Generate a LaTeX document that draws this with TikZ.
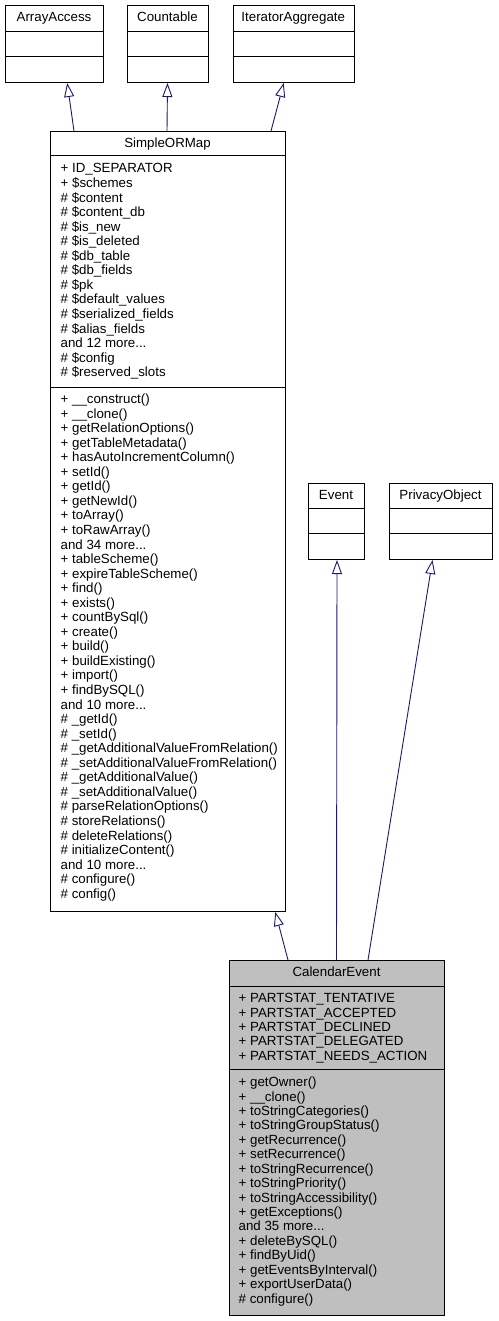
\documentclass[tikz,border=0pt]{standalone}
\usepackage{fontspec}
\setmainfont{Liberation Sans}
\usetikzlibrary{arrows.meta,calc}
\definecolor{edgeblue}{HTML}{191970}
\definecolor{focusgray}{HTML}{BFBFBF}
\newcommand{\andmore}[1]{and #1 more...}
\tikzset{
  classbox/.style={draw=black, line width=1pt, fill=white, inner sep=0pt, anchor=north west},
  focusbox/.style={classbox, fill=focusgray},
  sepline/.style={draw=black, line width=1pt},
  title/.style={anchor=base, inner sep=0pt, font=\fontsize{13.3}{14.5}\selectfont},
  member/.style={anchor=base west, inner sep=0pt, font=\fontsize{13.3}{14.5}\selectfont},
  inherit/.style={draw=edgeblue, line width=0.9pt, -{Triangle[open, length=14pt, width=10pt, fill=white]}},
}
\begin{document}
\begin{tikzpicture}[x=1pt, y=-1pt]
\useasboundingbox (0,0) rectangle (498,1321);

% ArrayAccess
\node[classbox, minimum width=98pt, minimum height=77pt] (arr) at (5,5) {};
\draw[sepline] (5,32) -- (103,32) (5,57) -- (103,57);
\node[title] (arrt) at (54,22) {ArrayAccess};

% Countable
\node[classbox, minimum width=81pt, minimum height=77pt] (cnt) at (127,5) {};
\draw[sepline] (127,32) -- (208,32) (127,57) -- (208,57);
\node[title] (cntt) at (167.5,22) {Countable};

% IteratorAggregate
\node[classbox, minimum width=121.5pt, minimum height=77pt] (itr) at (232.5,5) {};
\draw[sepline] (232.5,32) -- (354,32) (232.5,57) -- (354,57);
\node[title] (itrt) at (293.25,22) {IteratorAggregate};

% SimpleORMap
\node[classbox, minimum width=235pt, minimum height=780pt] (som) at (50,131) {};
\draw[sepline] (50,156) -- (285,156) (50,387) -- (285,387);
\node[title] (somt) at (167.5,148) {SimpleORMap};
\foreach \t [count=\i] in {{+ ID\_SEPARATOR},{+ \$schemes},{\# \$content},{\# \$content\_db},{\# \$is\_new},{\# \$is\_deleted},{\# \$db\_table},{\# \$db\_fields},{\# \$pk},{\# \$default\_values},{\# \$serialized\_fields},{\# \$alias\_fields},{\andmore{12}},{\# \$config},{\# \$reserved\_slots}}
  \node[member] (soma-\i) at (60.5,{173+(\i-1)*14.55}) {\t};
\foreach \t [count=\i] in {{+ \_\_construct()},{+ \_\_clone()},{+ getRelationOptions()},{+ getTableMetadata()},{+ hasAutoIncrementColumn()},{+ setId()},{+ getId()},{+ getNewId()},{+ toArray()},{+ toRawArray()},{\andmore{34}},{+ tableScheme()},{+ expireTableScheme()},{+ find()},{+ exists()},{+ countBySql()},{+ create()},{+ build()},{+ buildExisting()},{+ import()},{+ findBySQL()},{\andmore{10}},{\# \_getId()},{\# \_setId()},{\# \_getAdditionalValueFromRelation()},{\# \_setAdditionalValueFromRelation()},{\# \_getAdditionalValue()},{\# \_setAdditionalValue()},{\# parseRelationOptions()},{\# storeRelations()},{\# deleteRelations()},{\# initializeContent()},{\andmore{10}},{\# configure()},{\# config()}}
  \node[member] (somm-\i) at (60.5,{403.5+(\i-1)*14.55}) {\t};

% Event
\node[classbox, minimum width=56pt, minimum height=76pt] (evt) at (308,483) {};
\draw[sepline] (308,508) -- (364,508) (308,533) -- (364,533);
\node[title] (evtt) at (336,499) {Event};

% PrivacyObject
\node[classbox, minimum width=103pt, minimum height=76pt] (prv) at (389,483) {};
\draw[sepline] (389,508) -- (492,508) (389,533) -- (492,533);
\node[title] (prvt) at (440.5,499) {PrivacyObject};

% CalendarEvent
\node[focusbox, minimum width=215pt, minimum height=355pt] (cal) at (229,960) {};
\draw[sepline] (229,986) -- (444,986) (229,1069) -- (444,1069);
\node[title] (calt) at (336.5,976.7) {CalendarEvent};
\foreach \t [count=\i] in {{+ PARTSTAT\_TENTATIVE},{+ PARTSTAT\_ACCEPTED},{+ PARTSTAT\_DECLINED},{+ PARTSTAT\_DELEGATED},{+ PARTSTAT\_NEEDS\_ACTION}}
  \node[member] (cala-\i) at (238.5,{1002.7+(\i-1)*14.35}) {\t};
\foreach \t [count=\i] in {{+ getOwner()},{+ \_\_clone()},{+ toStringCategories()},{+ toStringGroupStatus()},{+ getRecurrence()},{+ setRecurrence()},{+ toStringRecurrence()},{+ toStringPriority()},{+ toStringAccessibility()},{+ getExceptions()},{\andmore{35}},{+ deleteBySQL()},{+ findByUid()},{+ getEventsByInterval()},{+ exportUserData()},{\# configure()}}
  \node[member] (calm-\i) at (238.5,{1086.7+(\i-1)*14.42}) {\t};

% inheritance edges
\draw[inherit] ($(som.north west)+(24,0)$) -- ($(arr.south)+(12.7,0)$);
\draw[inherit] ($(som.north west)+(117,0)$) -- ($(cnt.south)+(-0.5,0)$);
\draw[inherit] ($(som.north west)+(221,0)$) -- ($(itr.south)+(-10,0)$);
\draw[inherit] ($(cal.north west)+(59,0)$) -- ($(som.south east)+(-10.7,0)$);
\draw[inherit] ($(cal.north west)+(107.5,0)$) -- ($(evt.south)+(0.5,0)$);
\draw[inherit] ($(cal.north west)+(139,0)$) -- ($(prv.south)+(-8.5,0)$);
\end{tikzpicture}
\end{document}
